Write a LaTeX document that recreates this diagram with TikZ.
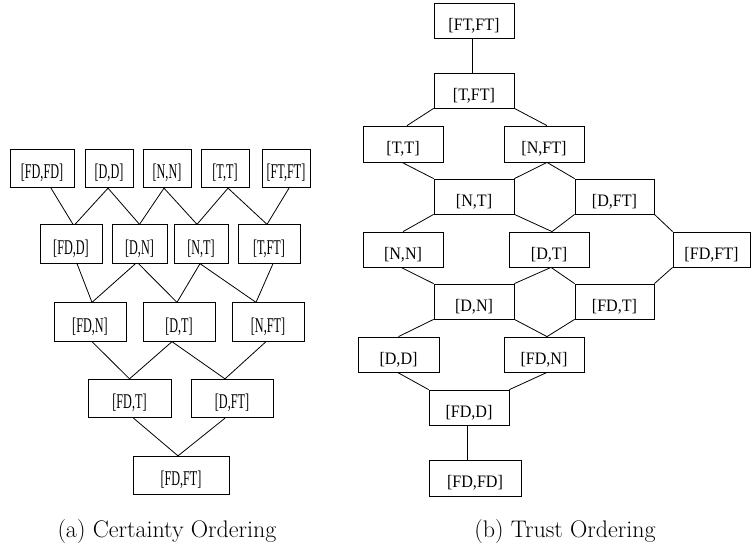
\documentclass[tikz,border=0pt]{standalone}
\usepackage{fontspec}
\newfontfamily\boxfont[FakeStretch=0.92]{Liberation Serif}
\newfontfamily\condfont[FakeStretch=0.58]{Liberation Serif}
\begin{document}
\begin{tikzpicture}[x=1pt,y=-1pt,
  lbox/.style={draw, line width=0.8pt, inner sep=0pt, minimum height=38.5pt,
    font=\condfont\fontsize{21}{21}\selectfont, text height=20.5pt, text depth=0pt},
  rbox/.style={draw, line width=0.8pt, inner sep=0pt, minimum height=35pt,
    minimum width=80pt, font=\boxfont\fontsize{17.5}{17.5}\selectfont,
    text height=19.2pt, text depth=0pt},
  link/.style={line width=0.8pt},
  captext/.style={anchor=base, inner sep=0pt, font=\fontsize{24}{28}\selectfont}]
\useasboundingbox (0,0) rectangle (751,546);

% ---------- (a) certainty ordering ----------
\node[lbox, minimum width=64pt] (cFDFD) at (42,168.5)  {[FD,FD]};
\node[lbox, minimum width=48pt] (cDD)   at (109,168.5) {[D,D]};
\node[lbox, minimum width=48pt] (cNN)   at (167,168.5) {[N,N]};
\node[lbox, minimum width=48pt] (cTT)   at (225,168.5) {[T,T]};
\node[lbox, minimum width=48pt] (cFTFT) at (286,168.5) {[FT,FT]};

\node[lbox, minimum width=62pt] (cFDD)  at (71,244)    {[FD,D]};
\node[lbox, minimum width=55pt] (cDN)   at (139.5,244) {[D,N]};
\node[lbox, minimum width=54pt] (cNT)   at (201,244)   {[N,T]};
\node[lbox, minimum width=62pt] (cTFT)  at (269,244)   {[T,FT]};

\node[lbox, minimum width=72pt] (cFDN)  at (90,322)  {[FD,N]};
\node[lbox, minimum width=72pt] (cDT)   at (179,322) {[D,T]};
\node[lbox, minimum width=72pt] (cNFT)  at (268,322) {[N,FT]};

\node[lbox, minimum width=83pt] (cFDT)  at (129.5,398.5) {[FD,T]};
\node[lbox, minimum width=82pt] (cDFT)  at (232,398.5)   {[D,FT]};

\node[lbox, minimum width=96pt] (cFDFT) at (181,475.5) {[FD,FT]};

\draw[link] ([xshift=9pt]cFDFD.south) -- ([xshift=2pt]cFDD.north);
\draw[link] ([xshift=-1pt]cDD.south)  -- ([xshift=4pt]cFDD.north);
\draw[link] ([xshift=-1pt]cDD.south)  -- (cDN.north);
\draw[link] ([xshift=-3pt]cNN.south)  -- (cDN.north);
\draw[link] ([xshift=-3pt]cNN.south)  -- ([xshift=-4pt]cNT.north);
\draw[link] ([xshift=3pt]cTT.south)   -- ([xshift=-4pt]cNT.north);
\draw[link] ([xshift=3pt]cTT.south)   -- ([xshift=-2pt]cTFT.north);
\draw[link] ([xshift=3pt]cFTFT.south) -- ([xshift=-2pt]cTFT.north);

\draw[link] ([xshift=6pt]cFDD.south)  -- ([xshift=2pt]cFDN.north);
\draw[link] ([xshift=-4pt]cDN.south)  -- ([xshift=2pt]cFDN.north);
\draw[link] ([xshift=-1pt]cDN.south)  -- ([xshift=-2pt]cDT.north);
\draw[link] ([xshift=-1pt]cNT.south)  -- ([xshift=-2pt]cDT.north);
\draw[link] ([xshift=-1pt]cNT.south)  -- ([xshift=-12pt]cNFT.north);
\draw[link] ([xshift=4pt]cTFT.south)  -- ([xshift=-12pt]cNFT.north);

\draw[link] ([xshift=2pt]cFDN.south)  -- (cFDT.north);
\draw[link] ([xshift=-7pt]cDT.south)  -- (cFDT.north);
\draw[link] ([xshift=-7pt]cDT.south)  -- ([xshift=-7pt]cDFT.north);
\draw[link] ([xshift=-2pt]cNFT.south) -- ([xshift=-7pt]cDFT.north);

\draw[link] ([xshift=4pt]cFDT.south)  -- ([xshift=-3pt]cFDFT.north);
\draw[link] ([xshift=-7pt]cDFT.south) -- ([xshift=-3pt]cFDFT.north);

\node[captext] (capA) at (167,537) {(a) Certainty Ordering};

% ---------- (b) trust ordering ----------
\node[rbox] (tFTFT) at (474,20.5)  {[FT,FT]};
\node[rbox] (tTFT)  at (474,90.5)  {[T,FT]};
\node[rbox, minimum height=36pt] (tTT)  at (403,144) {[T,T]};
\node[rbox, minimum height=36pt] (tNFT) at (544,144) {[N,FT]};
\node[rbox] (tNT)   at (474,196.5)   {[N,T]};
\node[rbox, minimum width=79pt] (tDFT) at (614.5,196.5) {[D,FT]};
\node[rbox] (tNN)   at (403,249.5)   {[N,N]};
\node[rbox] (tDT)   at (549,249.5)   {[D,T]};
\node[rbox, minimum width=77pt] (tFDFT) at (711.5,249.5) {[FD,FT]};
\node[rbox] (tDN)   at (474,301.5)   {[D,N]};
\node[rbox, minimum width=79pt] (tFDT) at (614.5,301.5) {[FD,T]};
\node[rbox, minimum width=81pt] (tDD)  at (398.5,354.5) {[D,D]};
\node[rbox] (tFDN)  at (544,354.5)   {[FD,N]};
\node[rbox] (tFDD)  at (469,407.5)   {[FD,D]};
\node[rbox, minimum width=92pt, minimum height=36pt] (tFDFD) at (475,478) {[FD,FD]};

\draw[link] ([xshift=-2pt]tFTFT.south) -- ([xshift=-2pt]tTFT.north);
\draw[link] (tTFT.south west) -- ([xshift=4pt]tTT.north);
\draw[link] (tTFT.south east) -- ([xshift=3pt]tNFT.north);
\draw[link] ([xshift=-1pt]tTT.south) -- (tNT.north west);
\draw[link] ([xshift=3pt]tNFT.south) -- (tNT.north east);
\draw[link] ([xshift=3pt]tNFT.south) -- (tDFT.north west);
\draw[link] (tNT.south west) -- (tNN.north);
\draw[link] (tNT.south east) -- ([xshift=3pt]tDT.north);
\draw[link] (tDFT.south west) -- ([xshift=3pt]tDT.north);
\draw[link] (tDFT.south east) -- (tFDFT.north west);
\draw[link] ([xshift=-2pt]tNN.south) -- (tDN.north west);
\draw[link] ([xshift=2pt]tDT.south) -- (tDN.north east);
\draw[link] ([xshift=2pt]tDT.south) -- (tFDT.north west);
\draw[link] (tFDFT.south west) -- (tFDT.north east);
\draw[link] (tDN.south west) -- (tDD.north);
\draw[link] (tDN.south east) -- ([xshift=3pt]tFDN.north);
\draw[link] (tFDT.south west) -- ([xshift=3pt]tFDN.north);
\draw[link] ([xshift=-1pt]tDD.south) -- (tFDD.north west);
\draw[link] ([xshift=3pt]tFDN.south) -- (tFDD.north east);
\draw[link] ([xshift=-2pt]tFDD.south) -- ([xshift=-8pt]tFDFD.north);

\node[captext] (capB) at (565,537) {(b) Trust Ordering};
\end{tikzpicture}
\end{document}
